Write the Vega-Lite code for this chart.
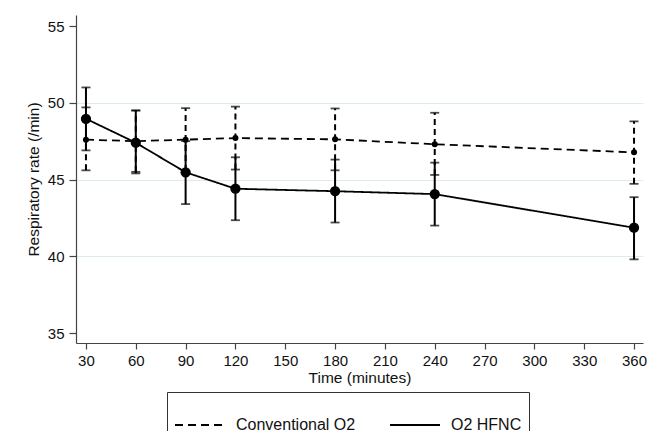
{
  "$schema": "https://vega.github.io/schema/vega-lite/v6.json",
  "width": 567,
  "height": 328,
  "autosize": {"type": "none"},
  "padding": {"left": 76, "top": 15, "right": 18, "bottom": 88},
  "background": "white",
  "config": {
    "view": {"stroke": null},
    "font": "Liberation Sans",
    "axis": {
      "labelFont": "Liberation Sans",
      "titleFont": "Liberation Sans",
      "labelColor": "#111",
      "titleColor": "#111",
      "domainColor": "#444",
      "tickColor": "#444",
      "domainWidth": 1.2,
      "tickWidth": 1.2,
      "titleFontWeight": "normal"
    }
  },
  "data": {
    "values": [
      {"group": "Conventional O2", "time": 30, "mean": 47.6, "lo": 45.6, "hi": 49.7},
      {"group": "Conventional O2", "time": 60, "mean": 47.5, "lo": 45.5, "hi": 49.5},
      {"group": "Conventional O2", "time": 90, "mean": 47.6, "lo": 45.55, "hi": 49.65},
      {"group": "Conventional O2", "time": 120, "mean": 47.7, "lo": 45.65, "hi": 49.75},
      {"group": "Conventional O2", "time": 180, "mean": 47.62, "lo": 45.6, "hi": 49.63},
      {"group": "Conventional O2", "time": 240, "mean": 47.3, "lo": 45.3, "hi": 49.35},
      {"group": "Conventional O2", "time": 360, "mean": 46.77, "lo": 44.72, "hi": 48.79},
      {"group": "O2 HFNC", "time": 30, "mean": 48.96, "lo": 46.9, "hi": 51.0},
      {"group": "O2 HFNC", "time": 60, "mean": 47.4, "lo": 45.4, "hi": 49.5},
      {"group": "O2 HFNC", "time": 90, "mean": 45.47, "lo": 43.4, "hi": 47.5},
      {"group": "O2 HFNC", "time": 120, "mean": 44.4, "lo": 42.35, "hi": 46.45},
      {"group": "O2 HFNC", "time": 180, "mean": 44.24, "lo": 42.2, "hi": 46.3},
      {"group": "O2 HFNC", "time": 240, "mean": 44.05, "lo": 42.0, "hi": 46.1},
      {"group": "O2 HFNC", "time": 360, "mean": 41.86, "lo": 39.8, "hi": 43.85}
    ]
  },
  "encoding": {
    "x": {
      "field": "time",
      "type": "quantitative",
      "scale": {"domain": [24, 365.4], "nice": false, "zero": false},
      "axis": {
        "values": [30, 60, 90, 120, 150, 180, 210, 240, 270, 300, 330, 360],
        "grid": false,
        "title": "Time (minutes)",
        "titleFontSize": 15.5,
        "titlePadding": 2,
        "labelFontSize": 15,
        "tickSize": 6,
        "labelPadding": 4
      }
    },
    "y": {
      "type": "quantitative",
      "scale": {"domain": [34.35, 55.72], "nice": false, "zero": false},
      "axis": {
        "values": [35, 40, 45, 50, 55],
        "title": "Respiratory rate (/min)",
        "titleFontSize": 15.5,
        "titlePadding": 6,
        "labelFontSize": 15,
        "tickSize": 7,
        "labelPadding": 5,
        "grid": true,
        "gridColor": {"condition": {"test": "datum.value == 35 || datum.value == 55", "value": "transparent"}, "value": "#dcebeb"},
        "gridWidth": 1.2
      }
    }
  },
  "layer": [
    {
      "transform": [{"filter": "datum.group == 'Conventional O2'"}],
      "mark": {"type": "rule", "color": "black", "strokeWidth": 2, "strokeDash": [6, 4]},
      "encoding": {"y": {"field": "lo"}, "y2": {"field": "hi"}}
    },
    {
      "transform": [{"filter": "datum.group == 'O2 HFNC'"}],
      "mark": {"type": "rule", "color": "black", "strokeWidth": 2},
      "encoding": {"y": {"field": "lo"}, "y2": {"field": "hi"}}
    },
    {
      "mark": {"type": "tick", "orient": "horizontal", "color": "black", "size": 9, "thickness": 1.8},
      "encoding": {"y": {"field": "lo"}}
    },
    {
      "mark": {"type": "tick", "orient": "horizontal", "color": "black", "size": 9, "thickness": 1.8},
      "encoding": {"y": {"field": "hi"}}
    },
    {
      "mark": {"type": "line", "color": "black", "strokeWidth": 1.8},
      "encoding": {
        "y": {"field": "mean"},
        "strokeDash": {
          "field": "group",
          "type": "nominal",
          "scale": {"domain": ["Conventional O2", "O2 HFNC"], "range": [[8, 5], [1, 0]]},
          "legend": {
            "title": null,
            "orient": "none",
            "legendX": 91,
            "legendY": 377,
            "direction": "horizontal",
            "strokeColor": "#333",
            "padding": 7,
            "symbolSize": 2500,
            "symbolStrokeWidth": 1.8,
            "symbolStrokeColor": "black",
            "labelFontSize": 16,
            "labelFont": "Liberation Sans",
            "labelColor": "#111",
            "labelOffset": 10,
            "columnPadding": 30
          }
        }
      }
    },
    {
      "transform": [{"filter": "datum.group == 'Conventional O2'"}],
      "mark": {"type": "circle", "color": "black", "opacity": 1, "size": 36},
      "encoding": {"y": {"field": "mean"}}
    },
    {
      "transform": [{"filter": "datum.group == 'O2 HFNC'"}],
      "mark": {"type": "circle", "color": "black", "opacity": 1, "size": 105},
      "encoding": {"y": {"field": "mean"}}
    }
  ]
}
